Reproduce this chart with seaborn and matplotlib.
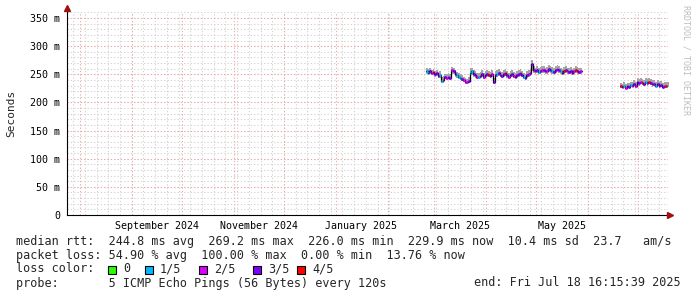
import numpy as np
import pandas as pd
import matplotlib
matplotlib.use("Agg")
import matplotlib.pyplot as plt
import matplotlib.dates as mdates
from matplotlib.patches import Rectangle
import seaborn as sns

# ---------------- data ----------------
END_TIME = "2025-07-18 16:15:39"
SPAN_DAYS = 359.6

seg1_start = "2025-02-24"
seg1_median_ms = [255, 253, 256, 252, 254, 250, 252, 247, 249, 238, 240, 245, 243, 246, 244, 257, 255,
                  250, 248, 246, 244, 242, 240, 237, 236, 238, 253, 255, 251,
                  248, 246, 245, 247, 250, 246, 248, 251, 249, 247, 250, 236,
                  248, 250, 252, 249, 247, 250, 252, 248, 246, 249, 251, 247, 245, 248, 250, 252, 249, 246, 244, 248, 250, 252,
                  269,
                  258, 255, 257, 254, 256, 258, 257, 255, 256, 259, 258, 256, 254, 258, 260, 257, 255, 253, 256, 258, 255,
                  254, 256, 253, 255, 258, 256, 254, 255]
seg1_hi_ms = [261, 259, 262, 258, 260, 256, 258, 253, 255, 246, 247, 251, 250, 253, 250, 263, 262,
              257, 254, 252, 250, 248, 246, 243, 242, 245, 262, 262, 258,
              255, 253, 252, 254, 257, 253, 255, 258, 256, 254, 257, 244,
              255, 257, 259, 256, 254, 257, 259, 255, 253, 256, 258, 254, 252, 255, 257, 259, 256, 253, 251, 255, 257, 259,
              276,
              265, 262, 264, 261, 263, 265, 264, 262, 263, 266, 265, 263, 261, 265, 266, 264, 262, 260, 263, 265, 262,
              261, 263, 260, 262, 265, 263, 261, 262]
seg1_lo_ms = [250, 249, 251, 248, 249, 246, 247, 243, 244, 234, 235, 241, 239, 241, 240, 251, 250,
              245, 244, 242, 240, 238, 236, 233, 232, 234, 247, 249, 246,
              244, 242, 241, 243, 245, 242, 244, 246, 245, 243, 245, 232,
              244, 245, 247, 245, 243, 245, 247, 244, 242, 245, 246, 243, 241, 244, 245, 247, 245, 242, 240, 244, 245, 247,
              255,
              253, 251, 252, 250, 251, 253, 252, 251, 251, 254, 253, 251, 250, 253, 255, 252, 251, 249, 251, 253, 251,
              250, 251, 249, 251, 253, 251, 250, 251]
seg1_loss = [1, 1, 3, 2, 4, 3, 3, 2, 1, 1,
             4, 3, 2, 3, 3, 2, 3, 3, 1, 1,
             1, 3, 2, 2, 2, 3, 1, 1, 3, 3,
             2, 1, 3, 3, 2, 3, 3, 4, 3, 2,
             3, 3, 1, 3, 2, 3, 3, 4, 3, 2,
             3, 3, 2, 3, 3, 3, 2, 3, 1, 3,
             3, 2, 3, 3, 3, 2, 3, 1, 3, 2,
             3, 3, 2, 3, 3, 1, 3, 3, 2, 3,
             1, 3, 4, 3, 2, 3, 3, 3, 2, 4,
             3, 3, 2]

seg2_start = "2025-06-20"
seg2_median_ms = [229, 228, 230, 226, 229, 228, 231, 230, 232, 229,
                  236, 234, 237, 235, 233, 236, 234, 237, 235, 232,
                  233, 230, 232, 229, 231, 228, 230, 229, 230]
seg2_hi_ms = [234, 233, 236, 232, 235, 234, 237, 237, 240, 236,
              243, 241, 244, 242, 240, 244, 241, 244, 242, 239,
              240, 237, 239, 236, 238, 235, 237, 236, 236]
seg2_lo_ms = [226, 225, 227, 223, 226, 225, 228, 227, 229, 226,
              232, 230, 233, 231, 229, 232, 230, 233, 231, 228,
              229, 227, 229, 226, 228, 225, 227, 226, 227]
seg2_loss = [4, 3, 1, 2, 3, 3, 1, 2, 3, 2,
             3, 3, 2, 4, 3, 1, 3, 4, 3, 2,
             3, 1, 3, 2, 3, 3, 2, 4, 1]

loss_labels = ["0", "1/5", "2/5", "3/5", "4/5"]
loss_colors = ["#26ff00", "#00b8ff", "#dd00ff", "#7e00ff", "#ff0000"]

y_ticks_ms = [0, 50, 100, 150, 200, 250, 300, 350]
x_label_months = ["2024-09-16", "2024-11-16", "2025-01-16", "2025-03-16", "2025-05-16"]
x_tick_labels = ["September 2024", "November 2024", "January 2025", "March 2025", "May 2025"]

legend_lines = [
    "median rtt:  244.8 ms avg  269.2 ms max  226.0 ms min  229.9 ms now  10.4 ms sd  23.7   am/s",
    "packet loss: 54.90 % avg  100.00 % max  0.00 % min  13.76 % now",
]
probe_text = "probe:       5 ICMP Echo Pings (56 Bytes) every 120s"
end_text = "end: Fri Jul 18 16:15:39 2025"

# ---------------- build frames ----------------
segs = [(seg1_start, seg1_median_ms, seg1_lo_ms, seg1_hi_ms, seg1_loss),
        (seg2_start, seg2_median_ms, seg2_lo_ms, seg2_hi_ms, seg2_loss)]
frames = []
for k, (st, med, lo, hi, loss) in enumerate(segs):
    assert len(med) == len(lo) == len(hi) == len(loss), (k, len(med), len(lo), len(hi), len(loss))
    t = pd.date_range(st, periods=len(med), freq="D")
    frames.append(pd.DataFrame({"time": t, "median": np.array(med) / 1000.0,
                                "lo": np.array(lo) / 1000.0, "hi": np.array(hi) / 1000.0,
                                "loss": [loss_labels[v] for v in loss], "seg": k}))
df = pd.concat(frames, ignore_index=True)

step_frames = []
for k, f in df.groupby("seg"):
    last = f.iloc[[-1]].copy()
    last["time"] = last["time"] + pd.Timedelta(days=1)
    step_frames.append(pd.concat([f, last]))
df_step = pd.concat(step_frames, ignore_index=True)

# ---------------- figure ----------------
sns.set_style("white")
plt.rcParams["font.family"] = ["DejaVu Sans Mono", "DejaVu Sans"]

W, H = 697, 297
fig = plt.figure(figsize=(W / 100, H / 100), dpi=100)
fig.patch.set_facecolor("white")
ax_left, ax_right, ax_top, ax_bot = 66.7, 668.0, 12.0, 215.0
ax = fig.add_axes([ax_left / W, 1 - ax_bot / H, (ax_right - ax_left) / W, (ax_bot - ax_top) / H])
ax.set_facecolor("white")

end_t = pd.Timestamp(END_TIME)
start_t = end_t - pd.Timedelta(days=SPAN_DAYS)
ymax = 0.3607
ax.set_xlim(mdates.date2num(start_t), mdates.date2num(end_t))
ax.set_ylim(0, ymax)

# grid
weeks = pd.date_range(start_t.normalize(), end_t, freq="W-SUN")
months = pd.date_range("2024-08-01", end_t, freq="MS")
minor_c, major_c = "#d2d2d2", "#f3a6a6"
ls = (0, (1.2, 2.0))
ax.vlines(mdates.date2num(weeks), 0, ymax, colors=minor_c, linestyles=ls, lw=0.75, zorder=1)
ax.vlines(mdates.date2num(months), 0, ymax, colors=major_c, linestyles=ls, lw=0.75, zorder=1.2)
ym = np.arange(0.01, ymax, 0.01)
ax.hlines(ym, 0, 1, transform=ax.get_yaxis_transform(), colors=minor_c, linestyles=ls, lw=0.75, zorder=1)
yM = np.array(y_ticks_ms[1:]) / 1000.0
ax.hlines(yM, 0, 1, transform=ax.get_yaxis_transform(), colors=major_c, linestyles=ls, lw=0.75, zorder=1.2)

# smoke
for k, f in df_step.groupby("seg"):
    ax.fill_between(mdates.date2num(f["time"]), f["lo"], f["hi"], step="post",
                    color="#a4a4a4", lw=0, zorder=2)

# median black step line (seaborn)
df_step["tnum"] = mdates.date2num(df_step["time"])
sns.lineplot(data=df_step, x="tnum", y="median", units="seg", estimator=None, color="black",
             lw=0.9, drawstyle="steps-post", ax=ax, legend=False, zorder=3)

# coloured median by loss
pal = dict(zip(loss_labels, loss_colors))
t0 = mdates.date2num(df["time"])
ax.hlines(df["median"], t0, t0 + 1.0, colors=df["loss"].map(pal), lw=2.0, zorder=4)

# axes styling
for s in ["top", "right"]:
    ax.spines[s].set_visible(False)
for s in ["left", "bottom"]:
    ax.spines[s].set_color("black")
    ax.spines[s].set_linewidth(0.8)
    ax.spines[s].set_zorder(5)

ax.set_yticks(np.array(y_ticks_ms) / 1000.0)
ax.set_yticklabels([("%d m" % v) if v > 0 else "0" for v in y_ticks_ms])
ax.tick_params(axis="y", direction="out", length=2.4, width=0.8, pad=2.4, labelsize=7.2, colors="black")

ax.set_xticks(mdates.date2num(pd.to_datetime(x_label_months)))
ax.set_xticklabels(x_tick_labels)
ax.tick_params(axis="x", which="major", length=0, pad=4.0, labelsize=7.2, colors="black")
ax.set_xticks(mdates.date2num(months), minor=True)
ax.tick_params(axis="x", which="minor", direction="out", length=2.0, width=0.7, colors="black")
ax.set_xlabel("")
ax.set_ylabel("")

# arrows
ax.plot([0], [1.0 + 4 / 203], marker="^", color="#a01010", markersize=4, transform=ax.transAxes,
        clip_on=False, zorder=6)
ax.plot([1.0 + 2 / 601], [0], marker=">", color="#a01010", markersize=4, transform=ax.transAxes,
        clip_on=False, zorder=6)

# labels
fig.text(11 / W, 1 - 113.5 / H, "Seconds", rotation=90, ha="center", va="center", fontsize=8)
fig.text(686 / W, 1 - 60 / H, "RRDTOOL / TOBI OETIKER", rotation=270, ha="center", va="center",
         fontsize=6, color="#bdbdbd")

# legend
fs = 8.45
fig.text(16 / W, 1 - 241 / H, legend_lines[0], ha="left", va="center", fontsize=fs)
fig.text(16 / W, 1 - 255 / H, legend_lines[1], ha="left", va="center", fontsize=fs)
fig.text(16 / W, 1 - 269 / H, "loss color:", ha="left", va="center", fontsize=fs)
box_x = [108, 145, 199, 253, 297]
for bx, lab, col in zip(box_x, loss_labels, loss_colors):
    fig.patches.append(Rectangle((bx / W, 1 - 273.5 / H), 8 / W, 8 / H, transform=fig.transFigure,
                                 facecolor=col, edgecolor="black", lw=0.8))
    fig.text((bx + 15) / W, 1 - 269 / H, lab, ha="left", va="center", fontsize=fs)
fig.text(16 / W, 1 - 283 / H, probe_text, ha="left", va="center", fontsize=fs)
fig.text(681 / W, 1 - 283 / H, end_text, ha="right", va="center", fontsize=fs)

fig.savefig("out.png", dpi=100, facecolor="white")
